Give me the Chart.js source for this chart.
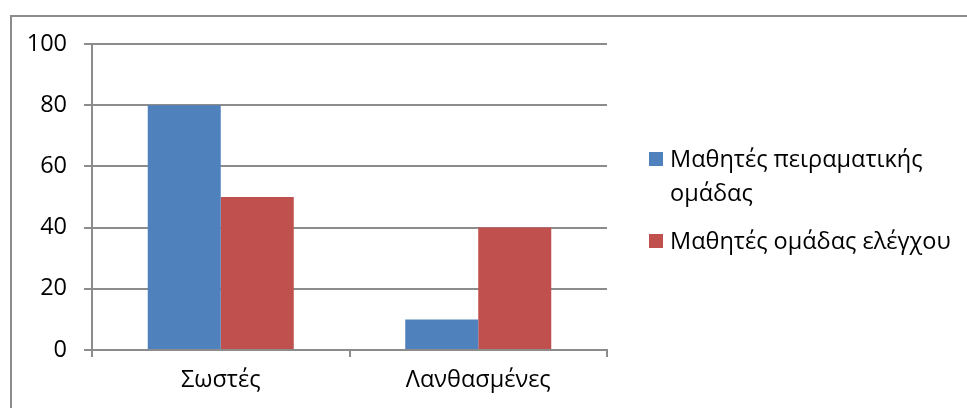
<!DOCTYPE html>
<html>
<head>
<meta charset="utf-8">
<script src="https://cdn.jsdelivr.net/npm/chart.js@4"></script>
<style>
  html, body { margin: 0; padding: 0; background: #fff; }
  #wrap { position: relative; width: 967px; height: 408px; overflow: hidden; }
  #frame { position: absolute; left: 10px; top: 15px; width: 1000px; height: 500px;
           border: 2px solid #8c8c8c; box-sizing: border-box; pointer-events: none; }
  #legend { position: absolute; left: 649px; top: 141px; width: 305px;
            font-family: "Open Sans", sans-serif; font-size: 23.5px; color: #000; }
  .item { position: relative; padding-left: 21px; line-height: 34px; margin-bottom: 14px; }
  .sw { position: absolute; left: 0; top: 11px; width: 14px; height: 14px; }
</style>
</head>
<body>
<div id="wrap">
  <canvas id="c" width="967" height="408"></canvas>
  <div id="frame"></div>
  <div id="legend"></div>
</div>
<script>
const categories = ["Σωστές", "Λανθασμένες"];
const seriesNames = ["Μαθητές πειραματικής ομάδας", "Μαθητές ομάδας ελέγχου"];
const experimentalGroup = [80, 10];
const controlGroup = [50, 40];
const yTicks = [0, 20, 40, 60, 80, 100];
const seriesColors = ["#4F81BD", "#C0504D"];

const FONT = { family: "'Open Sans', sans-serif", size: 23.5 };

const chart = new Chart(document.getElementById("c"), {
  type: "bar",
  data: {
    labels: categories,
    datasets: [
      { label: seriesNames[0], data: experimentalGroup, backgroundColor: seriesColors[0] },
      { label: seriesNames[1], data: controlGroup, backgroundColor: seriesColors[1] }
    ]
  },
  options: {
    responsive: false,
    animation: false,
    layout: { padding: { left: 0, right: 360, top: 44, bottom: 0 } },
    datasets: { bar: { categoryPercentage: 0.567, barPercentage: 1.0, borderWidth: 0 } },
    plugins: { legend: { display: false }, tooltip: { enabled: false } },
    scales: {
      x: {
        grid: { display: true, drawOnChartArea: false, drawTicks: true, tickLength: 7,
                offset: true, color: "#8c8c8c", lineWidth: 2 },
        border: { display: true, color: "#8c8c8c", width: 2 },
        ticks: { color: "#000", font: FONT, padding: 9 },
        afterFit: s => { s.height = 58; }
      },
      y: {
        min: 0, max: 100,
        afterBuildTicks: s => { s.ticks = yTicks.map(v => ({ value: v })); },
        grid: { color: "#8c8c8c", lineWidth: 2, tickLength: 8 },
        border: { display: true, color: "#8c8c8c", width: 2 },
        ticks: { color: "#000", font: FONT, padding: 17 },
        afterFit: s => { s.width = 92; }
      }
    }
  }
});

// legend built from the chart's own dataset labels and colours
const legendEl = document.getElementById("legend");
chart.data.datasets.forEach(ds => {
  const item = document.createElement("div");
  item.className = "item";
  const sw = document.createElement("span");
  sw.className = "sw";
  sw.style.background = ds.backgroundColor;
  item.appendChild(sw);
  item.appendChild(document.createTextNode(ds.label));
  legendEl.appendChild(item);
});
</script>
</body>
</html>
